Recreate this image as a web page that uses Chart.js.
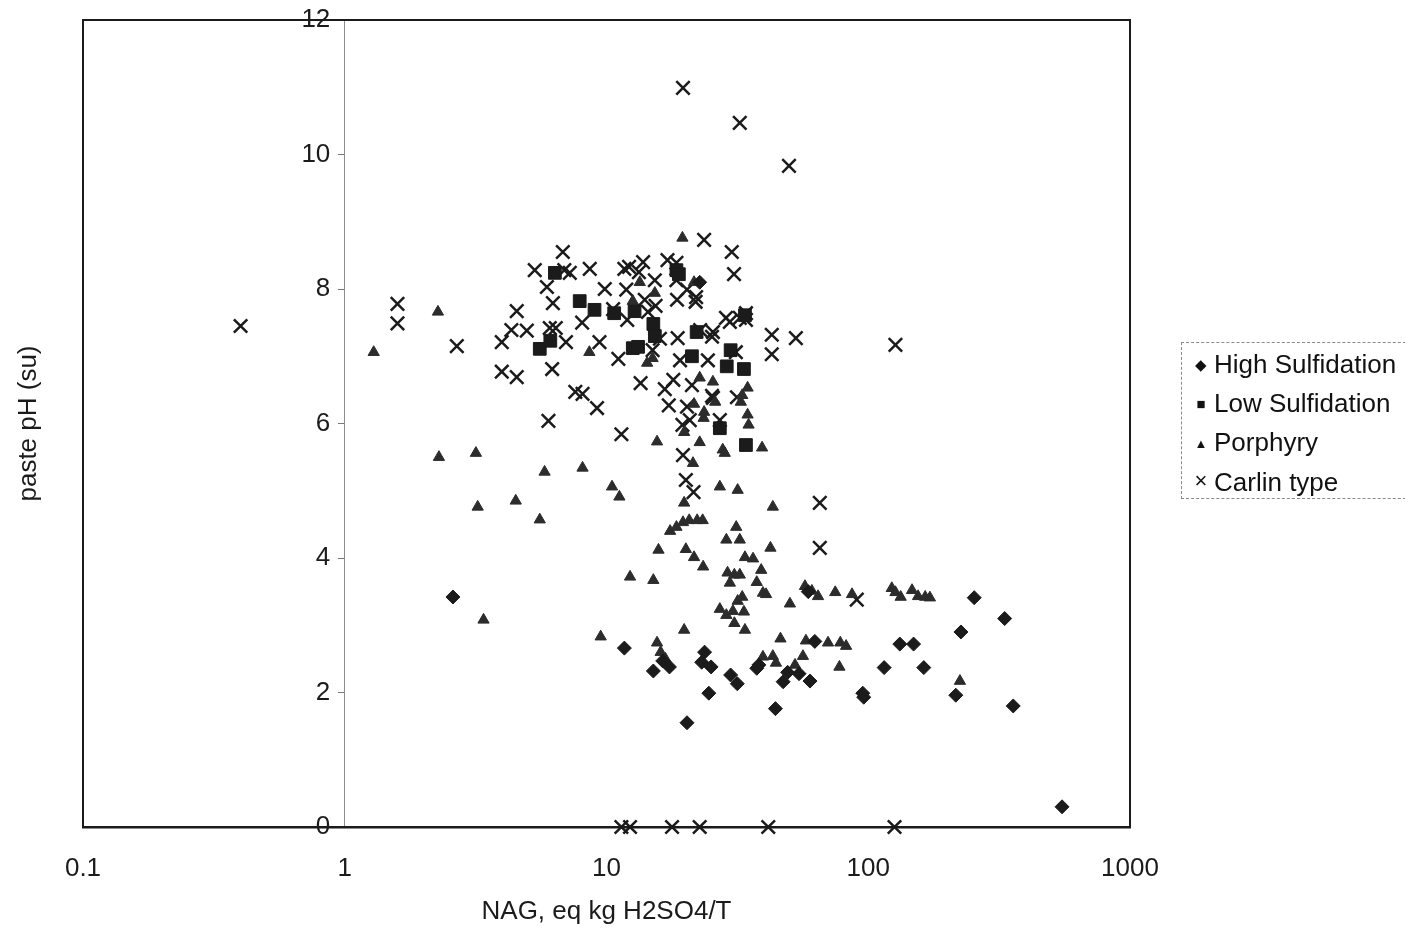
<!DOCTYPE html>
<html>
<head>
<meta charset="utf-8">
<script src="https://cdn.jsdelivr.net/npm/chart.js@4.4.1/dist/chart.umd.min.js"></script>
<style>
  html, body { margin: 0; padding: 0; background: #fff; }
  .wrap { position: relative; width: 1405px; height: 935px; overflow: hidden; }
  .legend {
    position: absolute; left: 1181px; top: 342px; width: 240px; height: 157px;
    border: 1px dashed #8a8a8a; box-sizing: border-box;
    font-family: 'Liberation Sans', Arial, sans-serif; font-size: 26px; color: #111;
  }
  .legend div { position: absolute; left: 6px; height: 32px; line-height: 32px; white-space: nowrap; }
  .legend span.mk { display: inline-block; width: 26px; text-align: center; vertical-align: 3px; }
</style>
</head>
<body>
<div class="wrap">
  <canvas id="nagChart" width="1405" height="935"></canvas>
  <div class="legend" id="legend"></div>
</div>
<script>
const seriesNames = ['High Sulfidation', 'Low Sulfidation', 'Porphyry', 'Carlin type'];
const xTickValues = [0.1, 1, 10, 100, 1000];
const yTickStep = 2;

// [NAG, paste pH]
const highSulfidation = [
  [2.59, 3.42], [11.7, 2.66], [15.1, 2.32], [16.4, 2.47], [17.4, 2.38], [20.3, 1.55],
  [23.7, 2.6], [23.1, 2.45], [25.1, 2.38], [24.6, 1.99], [22.7, 8.1], [29.8, 2.26],
  [31.6, 2.13], [37.5, 2.36], [38.2, 2.41], [44.2, 1.76], [47.3, 2.16], [49.2, 2.3],
  [54.4, 2.28], [59.9, 2.17], [62.5, 2.76], [59.0, 3.5], [95.3, 1.99], [96.1, 1.93],
  [115, 2.37], [132, 2.72], [149, 2.72], [163, 2.37], [216, 1.96], [226, 2.9],
  [254, 3.41], [332, 3.1], [358, 1.8], [550, 0.3]
];

const lowSulfidation = [
  [5.56, 7.11], [6.35, 8.24], [6.1, 7.23], [7.9, 7.82], [9.0, 7.69], [10.7, 7.64],
  [12.6, 7.12], [13.2, 7.14], [12.8, 7.67], [15.1, 7.48], [15.3, 7.3], [18.5, 8.28],
  [18.9, 8.22], [21.2, 7.0], [22.1, 7.36], [27.1, 5.93], [29.8, 7.09], [33.5, 6.81],
  [34.1, 5.68], [33.8, 7.61], [28.8, 6.85]
];

const porphyry = [
  [1.29, 7.06], [2.27, 7.66], [2.29, 5.5], [3.17, 5.56], [3.22, 4.76], [3.39, 3.08],
  [4.5, 4.85], [5.56, 4.57], [5.8, 5.28], [8.1, 5.34], [8.6, 7.06], [9.5, 2.83],
  [10.5, 5.06], [11.2, 4.91], [12.3, 3.72], [12.6, 7.82], [13.4, 8.1], [15.3, 7.94],
  [14.3, 6.9], [15.0, 6.97], [15.1, 3.67], [15.6, 5.73], [15.6, 2.74], [15.8, 4.12],
  [16.1, 2.6], [16.8, 2.5], [17.5, 4.4], [18.5, 4.46], [19.5, 8.76], [19.8, 4.82],
  [19.6, 4.53], [19.8, 2.93], [20.1, 4.13], [20.7, 4.56], [21.6, 4.01], [21.4, 5.41],
  [21.6, 6.29], [19.8, 5.87], [22.7, 5.72], [22.2, 4.56], [23.4, 3.87], [23.3, 4.56],
  [23.5, 6.08], [23.6, 6.17], [22.7, 6.68], [21.6, 8.1], [25.5, 6.62], [26.0, 6.32],
  [27.1, 5.06], [27.8, 5.61], [28.3, 5.56], [28.7, 4.27], [29.0, 3.78], [29.6, 3.63],
  [30.8, 3.75], [32.3, 3.75], [31.3, 4.46], [32.3, 4.27], [31.7, 5.01], [32.6, 6.32],
  [33.0, 6.42], [33.8, 4.01], [34.6, 6.53], [34.6, 6.13], [34.9, 5.98], [36.3, 3.99],
  [37.5, 3.64], [39.0, 3.82], [39.3, 5.64], [40.7, 3.46], [42.3, 4.15], [43.2, 4.76],
  [27.1, 3.24], [28.7, 3.15], [30.4, 3.21], [30.8, 3.03], [31.7, 3.36], [33.8, 2.93],
  [33.5, 3.2], [33.0, 3.42], [39.6, 2.53], [43.2, 2.54], [44.4, 2.44], [46.2, 2.8],
  [50.2, 3.32], [52.5, 2.41], [56.3, 2.54], [57.8, 2.77], [57.3, 3.58], [60.9, 3.51],
  [64.3, 3.43], [70.2, 2.74], [74.8, 3.49], [78.2, 2.74], [77.6, 2.38], [82.3, 2.69],
  [86.7, 3.46], [123, 3.55], [127, 3.49], [133, 3.42], [147, 3.52], [155, 3.43],
  [165, 3.42], [172, 3.41], [224, 2.17], [39.6, 3.48]
];

const carlinType = [
  [0.4, 7.45], [1.59, 7.78], [1.59, 7.49], [2.68, 7.15], [3.98, 7.21], [3.98, 6.77],
  [4.54, 6.69], [4.54, 7.67], [4.33, 7.39], [4.96, 7.38], [5.32, 8.28], [5.92, 8.03],
  [6.24, 7.79], [6.07, 7.42], [6.4, 7.42], [6.0, 6.04], [6.2, 6.81], [6.81, 8.55],
  [6.9, 8.28], [7.24, 8.24], [7.0, 7.21], [7.6, 6.47], [8.1, 6.44], [8.07, 7.5],
  [8.63, 8.3], [9.2, 6.23], [9.4, 7.21], [9.85, 8.0], [10.6, 7.7], [11.1, 6.96],
  [11.4, 5.84], [11.7, 8.3], [11.9, 7.99], [12.2, 8.33], [12.0, 7.54], [13.3, 8.25],
  [13.5, 6.6], [13.8, 8.4], [14.0, 7.84], [14.4, 7.66], [15.3, 8.13], [15.0, 7.09],
  [15.4, 7.75], [16.0, 7.26], [16.7, 6.51], [17.1, 8.43], [17.3, 6.27], [18.0, 6.65],
  [18.5, 8.39], [18.5, 8.13], [18.6, 7.84], [19.6, 10.99], [18.7, 7.27], [19.1, 6.94],
  [19.5, 5.98], [19.6, 5.53], [20.1, 5.16], [21.2, 6.57], [20.8, 6.05], [21.5, 4.98],
  [21.9, 7.81], [20.3, 7.99], [22.0, 7.88], [22.8, 7.39], [23.6, 8.73], [24.4, 6.94],
  [25.3, 6.41], [25.5, 7.36], [25.3, 7.29], [25.5, 6.38], [20.3, 6.25], [27.1, 6.05],
  [28.6, 7.57], [29.6, 7.51], [30.1, 8.55], [30.7, 8.22], [31.2, 7.06], [31.5, 6.39],
  [32.3, 10.47], [32.3, 7.57], [34.1, 7.64], [34.1, 7.54], [42.8, 7.32], [42.8, 7.03],
  [49.8, 9.83], [52.9, 7.27], [65.3, 4.82], [65.3, 4.15], [90.4, 3.38], [127, 7.17],
  [11.4, 0], [12.3, 0], [17.8, 0], [22.7, 0], [41.5, 0], [126, 0]
];

const FONT = "'Liberation Sans', Arial, sans-serif";
const INK = '#1b1b1b';

function toPoints(pairs) {
  return pairs.map(([x, y]) => ({ x, y }));
}

function buildDataset(label, pairs, style) {
  return {
    label,
    data: toPoints(pairs),
    clip: false,
    backgroundColor: style.fill,
    borderColor: style.stroke,
    borderWidth: style.borderWidth,
    pointStyle: style.pointStyle,
    pointRadius: style.radius,
    pointHoverRadius: style.radius,
  };
}

const plotBox = {
  id: 'plotBox',
  beforeDatasetsDraw(chart) {
    const { ctx, chartArea } = chart;
    ctx.save();
    ctx.strokeStyle = INK;
    ctx.lineWidth = 2;
    ctx.strokeRect(chartArea.left, chartArea.top, chartArea.right - chartArea.left, chartArea.bottom - chartArea.top);
    ctx.restore();
  },
};

const datasets = [
  buildDataset(seriesNames[0], highSulfidation, { fill: INK, stroke: INK, borderWidth: 1, pointStyle: 'rectRot', radius: 7 }),
  buildDataset(seriesNames[1], lowSulfidation, { fill: INK, stroke: INK, borderWidth: 1, pointStyle: 'rect', radius: 9 }),
  buildDataset(seriesNames[2], porphyry, { fill: '#2c2c2c', stroke: '#2c2c2c', borderWidth: 1, pointStyle: 'triangle', radius: 6.5 }),
  buildDataset(seriesNames[3], carlinType, { fill: INK, stroke: INK, borderWidth: 2.5, pointStyle: 'crossRot', radius: 9.5 }),
];

new Chart(document.getElementById('nagChart'), {
  type: 'scatter',
  data: { datasets },
  options: {
    responsive: false,
    animation: false,
    devicePixelRatio: 1,
    layout: { padding: { top: 20, right: 275, bottom: 0, left: 0 } },
    plugins: {
      legend: { display: false },
      tooltip: { enabled: false },
    },
    scales: {
      x: {
        type: 'logarithmic',
        position: 'bottom',
        min: 0.1,
        max: 1000,
        afterBuildTicks: (scale) => {
          scale.ticks = xTickValues.map((value) => ({ value }));
        },
        afterFit: (scale) => {
          scale.height = 108;
        },
        ticks: {
          color: INK,
          padding: 26,
          maxRotation: 0,
          autoSkip: false,
          font: { family: FONT, size: 26 },
          callback: (value) => String(value),
        },
        grid: { display: true, drawOnChartArea: false, drawTicks: false },
        border: { color: INK, width: 2.5 },
        title: {
          display: true,
          text: 'NAG, eq kg H2SO4/T',
          color: INK,
          font: { family: FONT, size: 26 },
          padding: { top: 0, bottom: 8 },
        },
      },
      y: {
        type: 'linear',
        position: { x: 1 },
        min: 0,
        max: 12,
        ticks: {
          stepSize: yTickStep,
          color: INK,
          font: { family: FONT, size: 26 },
          // axis sits inside the plot, so offset labels from the line with trailing spaces
          callback: (value) => `${value}  `,
        },
        grid: { display: true, drawOnChartArea: false, drawTicks: true, tickLength: 6, color: '#777' },
        border: { color: '#8c8c8c', width: 1, dash: [3, 3] },
      },
      yTitle: {
        type: 'linear',
        position: 'left',
        min: 0,
        max: 12,
        ticks: { display: false },
        grid: { display: false, drawTicks: false },
        border: { display: false },
        afterFit: (scale) => {
          scale.width = 83;
        },
        title: {
          display: true,
          text: 'paste pH (su)',
          color: INK,
          font: { family: FONT, size: 26 },
          padding: { top: 13, bottom: 0 },
        },
      },
    },
  },
  plugins: [plotBox],
});

const markers = ['◆', '■', '▲', '×'];
const markerSizes = ['15px', '15px', '13px', '22px'];
const legend = document.getElementById('legend');
seriesNames.forEach((name, i) => {
  const row = document.createElement('div');
  row.style.top = `${5 + i * 39}px`;
  row.innerHTML = `<span class="mk" style="font-size:${markerSizes[i]}">${markers[i]}</span>${name}`;
  legend.appendChild(row);
});
</script>
</body>
</html>
